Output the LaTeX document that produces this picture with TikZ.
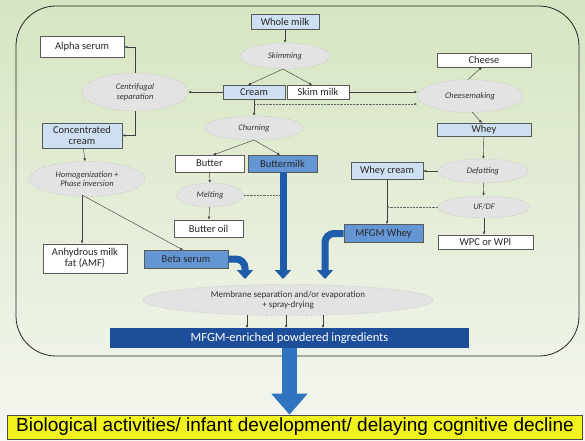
\documentclass[tikz,border=0pt]{standalone}
\usepackage{fontspec}
\setmainfont{Carlito}
\newfontfamily\arialf{Liberation Sans}
\usetikzlibrary{shapes.geometric,arrows.meta}
\definecolor{bgtop}{HTML}{D6E5C1}
\definecolor{bgbot}{HTML}{F4F6F0}
\definecolor{lblue}{HTML}{CDDFF1}
\definecolor{mblue}{HTML}{6496D4}
\definecolor{arrblue}{HTML}{1F5CAA}
\definecolor{barblue}{HTML}{1E4E9A}
\definecolor{botblue}{HTML}{2F74BE}
\definecolor{ylw}{HTML}{F2F21E}
\tikzset{
  box/.style={draw=black!65, line width=0.7pt, inner sep=1pt, align=center,
    font=\fontsize{10.5}{11}\selectfont, text=black!85},
  wbox/.style={box, fill=white},
  lbox/.style={box, fill=lblue},
  mbox/.style={box, fill=mblue},
  proc/.style={ellipse, inner sep=0pt, fill=gray!22, draw=gray!45, densely dashed,
    line width=0.4pt, align=center, font=\fontsize{8.5}{9.5}\selectfont\itshape, text=black!80},
  conn/.style={draw=black!75, line width=0.45pt, -{Latex[length=3pt,width=2.6pt]}},
  dotconn/.style={draw=black!60, line width=0.45pt, densely dotted, -{Circle[length=2pt]}},
  dotarr/.style={draw=black!60, line width=0.45pt, densely dotted, -{Latex[length=3pt,width=2.6pt]}},
  bigarr/.style={draw=arrblue, line width=7pt, -{Triangle[length=9pt,width=16pt]}},
}
\begin{document}
\begin{tikzpicture}[x=1pt,y=-1pt]
\useasboundingbox (0,0) rectangle (585,440);
\shade[top color=bgtop, bottom color=bgbot] (0,0) rectangle (585,440);
\draw[black!85, line width=0.8pt, rounded corners=40pt] (16,6) rectangle (579,356);

% boxes
\node[lbox, minimum width=68pt, minimum height=15pt] (wm) at (285,22) {Whole milk};
\node[proc, minimum width=90pt, minimum height=26pt] (sk) at (285,56) {Skimming};
\node[lbox, minimum width=62pt, minimum height=14pt] (cr) at (254,92) {Cream};
\node[wbox, minimum width=62pt, minimum height=14pt] (sm) at (318,92) {Skim milk};
\node[proc, minimum width=106pt, minimum height=38pt] (cs) at (135,92) {Centrifugal\\separation};
\node[wbox, minimum width=84pt, minimum height=21pt] (al) at (82,47) {Alpha serum};
\node[lbox, minimum width=80pt, minimum height=25pt, font=\fontsize{10.5}{11}\selectfont] (cc) at (82,135.5) {Concentrated\\cream};
\node[proc, minimum width=116pt, minimum height=35pt] (hp) at (87,179) {Homogenization +\\Phase inversion};
\node[proc, minimum width=98pt, minimum height=24pt] (ch) at (254,128) {Churning};
\node[wbox, minimum width=69pt, minimum height=17pt] (bu) at (209.5,163.5) {Butter};
\node[mbox, minimum width=69pt, minimum height=17pt] (bm) at (282.5,163.5) {Buttermilk};
\node[proc, minimum width=67pt, minimum height=24pt] (me) at (210,195) {Melting};
\node[wbox, minimum width=69pt, minimum height=17pt] (bo) at (208.5,228.5) {Butter oil};
\node[wbox, minimum width=84pt, minimum height=29pt, font=\fontsize{10.5}{11}\selectfont] (amf) at (85,258.5) {Anhydrous milk\\fat (AMF)};
\node[mbox, minimum width=84pt, minimum height=18pt] (bs) at (186,259) {Beta serum};
\node[wbox, minimum width=94pt, minimum height=14pt] (chs) at (484,60) {Cheese};
\node[proc, minimum width=105pt, minimum height=33pt] (cm) at (470,96) {Cheesemaking};
\node[lbox, minimum width=94pt, minimum height=13pt] (wh) at (484,129.5) {Whey};
\node[proc, minimum width=90pt, minimum height=24pt] (df) at (483,171) {Defatting};
\node[lbox, minimum width=72pt, minimum height=17pt] (wc) at (387,171) {Whey cream};
\node[proc, minimum width=92pt, minimum height=22pt] (uf) at (484,207) {UF/DF};
\node[mbox, minimum width=79pt, minimum height=18pt] (mw) at (383.5,233.5) {MFGM Whey};
\node[wbox, minimum width=95pt, minimum height=14pt] (wpc) at (485.5,242) {WPC or WPI};
\node[proc, minimum width=290pt, minimum height=31pt, font=\fontsize{9}{10}\selectfont] (ms) at (288,300) {Membrane separation and/or evaporation\\+ spray-drying};
\node[fill=barblue, minimum width=359pt, minimum height=20pt, inner sep=0pt, text=white, font=\fontsize{12.5}{13}\selectfont] (bar) at (289.5,338) {MFGM-enriched powdered ingredients};
\node[fill=ylw, draw=black!70, line width=0.7pt, minimum width=575pt, minimum height=24pt, inner sep=0pt, font=\arialf\fontsize{19}{20}\selectfont] (yl) at (295,427) {Biological activities/ infant development/ delaying cognitive decline};

% coordinates
\coordinate (crd) at (254,104);
\coordinate (hpb) at (82,195);
\coordinate (tb) at (245,279);
\coordinate (tw) at (325,279);
\coordinate (mwd) at (387,207);
\coordinate (bmd) at (283,195);

% thin connectors
\draw[conn] (wm) -- (sk);
\draw[conn] (283,69) -- (248,85);
\draw[conn] (283,69) -- (312,85);
\draw[conn] (cr.west) -- (cs.east);
\draw[conn] (cs.north) |- (al.east);
\draw[conn] (cs.south) |- (cc.east);
\draw[conn] (cc) -- (hp);
\draw[conn] (hpb) -- (hpb |- amf.north);
\draw[conn] (hpb) -- (183,250);
\draw[conn] (cr.south) -- (ch.north);
\draw[dotarr] (crd) -- (cm.west |- crd);
\draw[conn] (sm.east) -- (cm.west |- sm.east);
\draw[conn] (254,140) -- (213,155);
\draw[conn] (254,140) -- (280,155);
\draw[conn] (bu) -- (me);
\draw[conn] (me) -- (bo);
\draw[dotconn] (me.east) -- (bmd);
\draw[conn] (468,79.5) -- (482,67);
\draw[conn] (472,112) -- (482,123);
\draw[conn] (wh) -- (df);
\draw[conn] (df.west) -- (wc.east);
\draw[conn] (df) -- (uf);
\draw[conn] (uf) -- (uf |- wpc.north);
\draw[conn] (wc.south -| mwd) -- (mwd |- mw.north);
\draw[dotconn] (uf.west) -- (mwd);
\draw[conn] (247,315) -- (247,328);
\draw[conn] (286,315) -- (286,328);
\draw[conn] (323,315) -- (323,328);

% big arrows
\draw[bigarr] (bm.south -| bmd) -- (bmd |- tb);
\draw[bigarr, rounded corners=9pt] (bs.east) -| (tb);
\draw[bigarr, rounded corners=9pt] (mw.west) -| (tw);
\draw[draw=botblue, line width=15pt, -{Triangle[length=21pt,width=35pt]}] (bar.south) -- (bar.south |- yl.north);
\end{tikzpicture}
\end{document}
